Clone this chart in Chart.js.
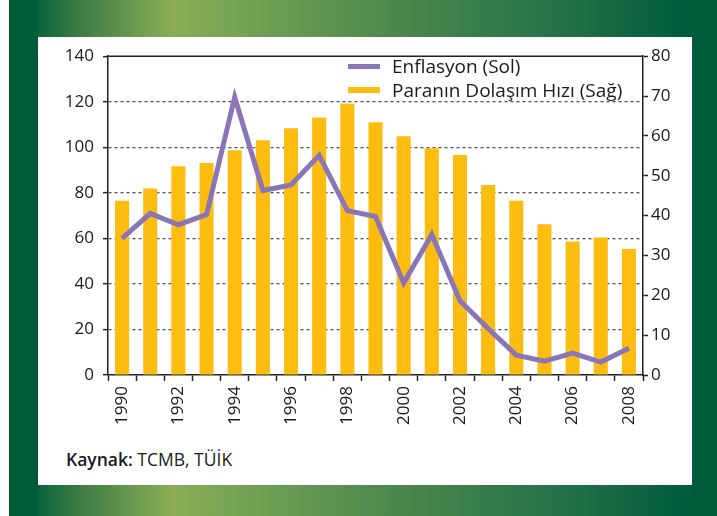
<!DOCTYPE html>
<html>
<head>
<meta charset="utf-8">
<script src="https://cdn.jsdelivr.net/npm/chart.js@4"></script>
<style>
    body { margin: 0; width: 717px; height: 516px; background: #fff; position: relative; overflow: hidden; font-family: "Open Sans", sans-serif; color: #1a1a1a; }
    .frame { position: absolute; left: 9px; top: 0; width: 708px; height: 516px;
        background: linear-gradient(to right, #005c38 0%, #006038 3%, #3d7c45 10%, #8aae56 23%, #6e9e53 36%, #4b874d 55%, #2a7449 75%, #005c3c 96%, #005c3c 100%); }
    .side { position: absolute; top: 0; height: 516px; background: #005c38; }
    .panel { position: absolute; left: 38px; top: 37px; width: 654px; height: 448px; background: #fff; }
    #chart { position: absolute; left: 38px; top: 37px; }
    .legend { position: absolute; left: 348px; font-size: 19px; line-height: 22px; }
    .legend .row { position: absolute; white-space: nowrap; }
    .legend .swatch { position: absolute; left: 0; width: 32px; }
    .legend .txt { position: absolute; left: 44px; top: 0; }
    .source { position: absolute; left: 66px; top: 447px; font-size: 17.5px; }
</style>
</head>
<body>
<div class="frame"></div>
<div class="side" style="left:9px;width:29px"></div>
<div class="side" style="left:692px;width:25px"></div>
<div class="panel"></div>
<canvas id="chart" width="654" height="410"></canvas>
<div class="legend" style="top:55px">
    <div class="row" style="top:0"><div class="swatch" style="top:9px;height:5px;background:#8a75b7"></div><span class="txt">Enflasyon (Sol)</span></div>
    <div class="row" style="top:24px"><div class="swatch" style="top:8px;height:6px;background:#fdbd10"></div><span class="txt">Paranın Dolaşım Hızı (Sağ)</span></div>
</div>
<div class="source"><b style="font-weight:600">Kaynak:</b> TCMB, TÜİK</div>

<script>
// data
const years = ['1990', '1991', '1992', '1993', '1994', '1995', '1996', '1997', '1998', '1999',
               '2000', '2001', '2002', '2003', '2004', '2005', '2006', '2007', '2008'];
const inflation = [60, 71, 66, 70.4, 122, 81, 83.5, 96.5, 72.2, 69.6,
                   40.4, 61.7, 32.6, 20.4, 8.7, 6.1, 9.6, 5.7, 11.7];
const velocity = [43.7, 46.8, 52.4, 53.2, 56.4, 58.9, 61.9, 64.6, 68.1, 63.4,
                  59.9, 56.9, 55.2, 47.7, 43.7, 37.8, 33.5, 34.5, 31.6];
const leftTicks = [0, 20, 40, 60, 80, 100, 120, 140];
const rightTicks = [0, 10, 20, 30, 40, 50, 60, 70, 80];

const FONT = { family: '"Open Sans", sans-serif', size: 17 };

// solid line along the top of the plot
const topLine = {
    id: 'topLine',
    afterDatasetsDraw(chart) {
        const a = chart.chartArea;
        const c = chart.ctx;
        c.save();
        c.strokeStyle = '#222';
        c.lineWidth = 1.5;
        c.beginPath();
        c.moveTo(a.left, a.top);
        c.lineTo(a.right, a.top);
        c.stroke();
        c.restore();
    }
};

new Chart(document.getElementById('chart'), {
    data: {
        labels: years,
        datasets: [{
            type: 'line',
            label: 'Enflasyon (Sol)',
            data: inflation,
            yAxisID: 'y',
            borderColor: '#8a75b7',
            borderWidth: 5,
            pointRadius: 0,
            tension: 0,
            order: 0
        }, {
            type: 'bar',
            label: 'Paranın Dolaşım Hızı (Sağ)',
            data: velocity,
            yAxisID: 'y2',
            backgroundColor: '#fdbd10',
            categoryPercentage: 1,
            barPercentage: 0.5,
            order: 1
        }]
    },
    options: {
        responsive: false,
        devicePixelRatio: 1,
        animation: false,
        layout: { padding: { top: 16, left: 0, right: 0, bottom: 0 } },
        plugins: { legend: { display: false }, tooltip: { enabled: false } },
        scales: {
            x: {
                offset: true,
                grid: { offset: true, drawOnChartArea: false, tickLength: 6, tickColor: '#222', tickWidth: 1.5 },
                border: { color: '#222', width: 1.5 },
                ticks: {
                    autoSkip: false, maxRotation: 90, minRotation: 90, padding: 5,
                    color: '#1a1a1a', font: FONT,
                    callback: (v, i) => i % 2 === 0 ? years[i] : ''
                },
                afterFit(s) { s.height = 72; }
            },
            y: {
                position: 'left',
                min: leftTicks[0], max: leftTicks[leftTicks.length - 1],
                afterBuildTicks(s) { s.ticks = leftTicks.map(v => ({ value: v })); },
                grid: {
                    color: (ctx) => (ctx.tick && (ctx.tick.value === 0 || ctx.tick.value === 140)) ? 'rgba(0,0,0,0)' : '#555',
                    lineWidth: 1.3, tickLength: 5, tickColor: '#222', tickWidth: 1.5
                },
                border: { color: '#222', width: 1.5, dash: [3, 3] },
                ticks: { color: '#1a1a1a', font: FONT, padding: 9 },
                afterFit(s) { s.width = 70; }
            },
            y2: {
                position: 'right',
                min: rightTicks[0], max: rightTicks[rightTicks.length - 1],
                afterBuildTicks(s) { s.ticks = rightTicks.map(v => ({ value: v })); },
                grid: { drawOnChartArea: false, tickLength: 5, tickColor: '#222', tickWidth: 1.5 },
                border: { color: '#222', width: 1.5 },
                ticks: { color: '#1a1a1a', font: FONT, padding: 3 },
                afterFit(s) { s.width = 49; }
            }
        }
    },
    plugins: [topLine]
});
</script>
</body>
</html>
